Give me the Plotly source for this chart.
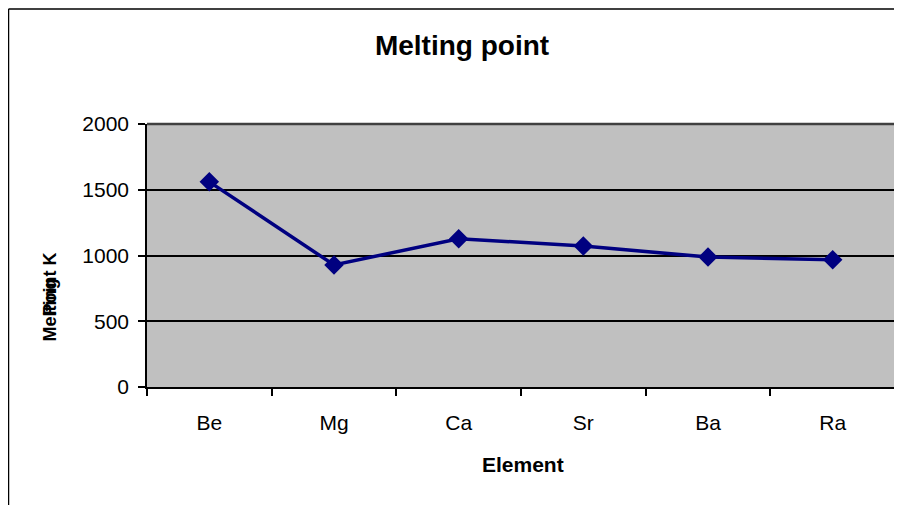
import plotly.graph_objects as go

elements = ["Be", "Mg", "Ca", "Sr", "Ba", "Ra"]
melting_k = [1560, 928, 1128, 1072, 988, 968]
y_ticks = [0, 500, 1000, 1500, 2000]

# page body adds an 8px offset; figure is sized to end exactly at the window edge
OFF = 8
W, H = 902 - OFF, 505 - OFF
L, R, T, B = 147 - OFF, 902 - 895, 124 - OFF, 505 - 387
pw = W - L - R
ph = H - T - B

def px(x):  # reference-image x pixel -> paper coordinate
    return (x - OFF - L) / pw

def py(y):  # reference-image y pixel -> paper coordinate
    return (H - B - (y - OFF)) / ph

fig = go.Figure()
fig.add_trace(go.Scatter(
    x=elements, y=melting_k, mode="lines+markers",
    line=dict(color="#000080", width=3.5),
    marker=dict(symbol="diamond", size=15, color="#000080"),
    showlegend=False, cliponaxis=False,
))

font = "Liberation Sans, Arial, sans-serif"
fig.update_layout(
    width=W, height=H,
    margin=dict(l=L, r=R, t=T, b=B),
    paper_bgcolor="white", plot_bgcolor="#C0C0C0",
    font=dict(family=font, color="black", size=21),
    title=dict(text="<b>Melting point</b>", x=(462 - OFF) / W, xanchor="center",
               y=1 - (45 - OFF) / H, yanchor="middle", font=dict(size=28)),
    xaxis=dict(
        type="category", range=[-0.5, 5.5], showgrid=False,
        showline=True, linecolor="black", linewidth=2,
        ticks="outside", ticklen=7, tickcolor="black", tickwidth=1.5,
        tickson="boundaries", mirror=False,
        tickfont=dict(size=21), ticklabelstandoff=16,
    ),
    yaxis=dict(
        range=[0, 2000], tickvals=y_ticks, showgrid=True,
        gridcolor="black", gridwidth=1.5,
        showline=True, linecolor="black", linewidth=1.5,
        ticks="outside", ticklen=7, tickcolor="black", tickwidth=1.5,
        tickfont=dict(size=21), zeroline=False, ticklabelstandoff=5,
    ),
)

# x-axis title
fig.add_annotation(text="<b>Element</b>", xref="paper", yref="paper",
                   x=px(523), y=py(464), xanchor="center", yanchor="middle",
                   showarrow=False, font=dict(size=21))

# overlapping (garbled) y-axis title as in the reference
fig.add_annotation(text="<b>Melting</b>", textangle=-90, xref="paper", yref="paper",
                   x=px(49), y=py(344), xanchor="center", yanchor="bottom",
                   showarrow=False, font=dict(size=18))
fig.add_annotation(text="<b>Point K</b>", textangle=-90, xref="paper", yref="paper",
                   x=px(49), y=py(251), xanchor="center", yanchor="top",
                   showarrow=False, font=dict(size=18))

# plot-area top/right border
fig.add_shape(type="line", xref="paper", yref="paper", x0=0, x1=1, y0=1, y1=1,
              line=dict(color="#404040", width=2.5))
fig.add_shape(type="line", xref="paper", yref="paper", x0=1, x1=1, y0=0, y1=1,
              line=dict(color="#808080", width=1.5))
# outer chart border (left and top visible)
fig.add_shape(type="line", xref="paper", yref="paper", x0=px(8.5), x1=px(8.5), y0=py(9), y1=py(515),
              line=dict(color="black", width=1.5))
fig.add_shape(type="line", xref="paper", yref="paper", x0=px(8.5), x1=px(910), y0=py(9), y1=py(9),
              line=dict(color="black", width=1.5))

fig.write_html("out.html")
